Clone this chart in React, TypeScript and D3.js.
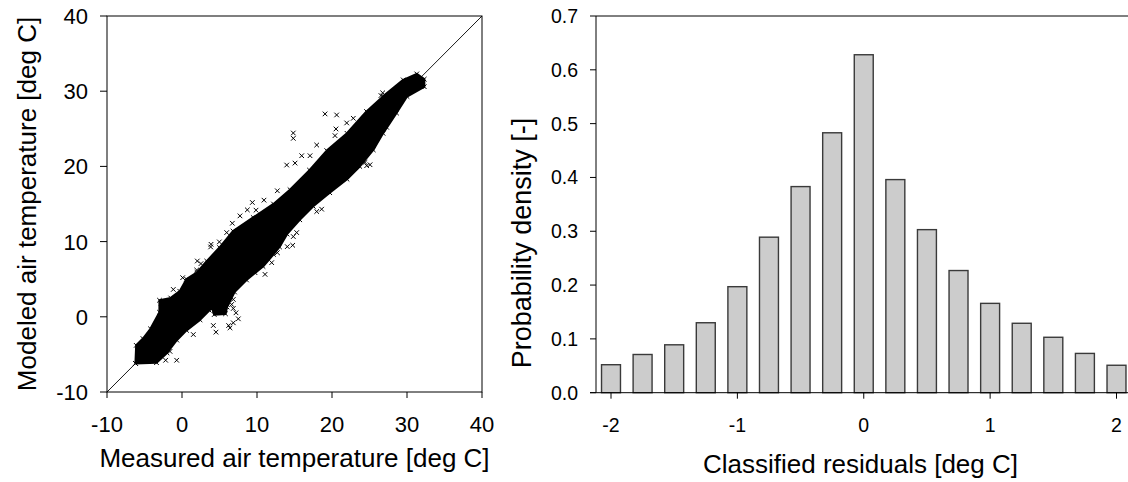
import React from 'react';
import * as d3 from 'd3';

const W = 1128;
const H = 482;
const FONT = "'Liberation Sans', Arial, Helvetica, sans-serif";

// ---- Left panel: modeled vs measured air temperature ----
const tempTicks = [-10, 0, 10, 20, 30, 40];
// dense cloud outline [measured, modeled]
const cloudUpper: [number, number][] = [
  [-6.2, -6.2], [-6.1, -3.8], [-5.2, -2.9], [-4.2, -1.6], [-3.0, 0.6], [-3.0, 2.2],
  [-1.5, 2.5], [-0.3, 3.4], [0.6, 5.0], [2.0, 5.9], [3.3, 7.4], [5.0, 9.2],
  [6.8, 11.4], [9.5, 13.2], [12.2, 15.0], [14.4, 16.9], [17.0, 19.5], [19.3, 22.1],
  [22.0, 24.4], [24.6, 27.3], [26.8, 29.3], [29.5, 31.5], [31.3, 32.3], [32.3, 31.6],
];
const cloudLower: [number, number][] = [
  [32.3, 30.6], [30.0, 29.3], [28.6, 27.1], [26.8, 24.4], [25.5, 22.2], [23.7, 20.0],
  [22.0, 18.3], [19.7, 16.5], [17.5, 14.7], [15.7, 12.9], [14.0, 11.0], [13.0, 9.3],
  [12.2, 8.3], [10.8, 6.7], [8.6, 4.9], [7.0, 3.3], [6.0, 1.3], [5.8, 0.4],
  [4.3, 0.3], [4.0, 1.2], [2.4, -0.4], [0.6, -1.8], [-0.7, -3.1], [-2.0, -4.8],
  [-3.4, -6.1], [-6.2, -6.2],
];
// scattered points outside the dense cloud
const outliers: [number, number][] = [
  [19.07, 26.98], [20.62, 26.84], [14.84, 24.44], [14.84, 23.73], [20.4, 24.09], [20.53, 24.98],
  [21.96, 25.78], [17.96, 22.84], [25.51, 27.38], [26.76, 29.78], [24.62, 20.09], [25.07, 20.22],
  [15.96, 21.42], [13.96, 20.18], [15.07, 20.44], [17.07, 21.42], [12.71, 16.76], [10.93, 15.51],
  [9.38, 15.2], [9.87, 14.18], [8.71, 14.22], [7.73, 13.42], [6.71, 12.44], [5.96, 11.2],
  [4.98, 9.96], [3.87, 9.64], [3.82, 9.29], [2.53, 7.07], [2.04, 7.42], [1.96, 6.22],
  [0.09, 5.2], [-1.16, 3.64], [-2.76, 1.2], [4.18, -1.16], [4.53, -2.04], [1.51, -2.36],
  [6.4, -1.47], [6.22, -1.16], [6.84, -0.8], [7.51, -0.27], [6.84, 2.31], [6.62, 1.64],
  [6.84, 1.11], [7.2, 0.53], [-0.71, -5.78], [-2.18, -5.78], [-2.8, -4.49], [14.76, 9.51],
  [14.04, 9.33], [12.71, 8.53], [11.29, 8.53], [11.96, 7.2], [11.07, 5.64], [9.73, 5.87],
  [14.84, 10.67], [15.29, 11.2], [17.96, 14.0], [18.62, 14.31], [24.4, 20.53], [27.29, 25.2],
  [31.96, 30.67], [30.18, 31.33], [26.53, 29.42], [22.84, 26.4], [-1.6, -4.6], [3.6, 0.9],
];

// ---- Right panel: histogram of classified residuals ----
const residualClasses = [-2, -1.75, -1.5, -1.25, -1, -0.75, -0.5, -0.25, 0, 0.25, 0.5, 0.75, 1, 1.25, 1.5, 1.75, 2];
const densities = [0.052, 0.071, 0.089, 0.130, 0.197, 0.289, 0.383, 0.483, 0.628, 0.396, 0.303, 0.227, 0.166, 0.129, 0.103, 0.073, 0.051];
const residualTicks = [-2, -1, 0, 1, 2];
const densityTicks = [0, 0.1, 0.2, 0.3, 0.4, 0.5, 0.6, 0.7];

export default function App() {
  // left
  const xs = d3.scaleLinear().domain([-10, 40]).range([107, 482]);
  const ys = d3.scaleLinear().domain([-10, 40]).range([392, 16]);
  const cloudPath = d3.line<[number, number]>().x(d => xs(d[0])).y(d => ys(d[1]))([...cloudUpper, ...cloudLower]) + 'Z';
  const m = 2.3;

  // right
  const rx = d3.scaleLinear().domain([-2, 2]).range([611, 1116.5]);
  const ry = d3.scaleLinear().domain([0, 0.7]).range([392.7, 16]);
  const barW = (rx(0.25) - rx(0)) * 0.6;
  const rLeft = 596;

  const cross = (p: [number, number]) => {
    const x = xs(p[0]);
    const y = ys(p[1]);
    return `M${x - m},${y - m}L${x + m},${y + m}M${x - m},${y + m}L${x + m},${y - m}`;
  };

  return (
    <svg width={W} height={H} style={{ position: 'absolute', left: 0, top: 0, background: '#fff' }} fontFamily={FONT}>
      <rect x={0} y={0} width={W} height={H} fill="#fff" />
      {/* LEFT PANEL */}
      <line x1={xs(-10)} y1={ys(-10)} x2={xs(40)} y2={ys(40)} stroke="#000" strokeWidth={0.9} />
      <path d={cloudPath} fill="#000" stroke="#000" strokeWidth={2.2} strokeLinejoin="round" />
      {[...cloudUpper, ...cloudLower].map((p, i) => (
        <path key={'c' + i} d={cross(p)} stroke="#000" strokeWidth={1} />
      ))}
      {outliers.map((p, i) => (
        <path key={'o' + i} d={cross(p)} stroke="#000" strokeWidth={1} />
      ))}
      <rect x={xs(-10)} y={ys(40)} width={xs(40) - xs(-10)} height={ys(-10) - ys(40)} fill="none" stroke="#000" strokeWidth={1} />
      {tempTicks.map(t => (
        <g key={'xt' + t}>
          <line x1={xs(t)} x2={xs(t)} y1={ys(-10)} y2={ys(-10) + 6} stroke="#000" />
          <text x={xs(t)} y={432} textAnchor="middle" fontSize={22}>{String(t)}</text>
          <line x1={xs(-10) - 7} x2={xs(-10)} y1={ys(t)} y2={ys(t)} stroke="#000" />
          <text x={88} y={ys(t) + 8} textAnchor="end" fontSize={22}>{String(t)}</text>
        </g>
      ))}
      <text x={(xs(-10) + xs(40)) / 2} y={467} textAnchor="middle" fontSize={26}>Measured air temperature [deg C]</text>
      <text transform={`translate(36,${(ys(-10) + ys(40)) / 2}) rotate(-90)`} textAnchor="middle" fontSize={26}>Modeled air temperature [deg C]</text>

      {/* RIGHT PANEL */}
      {residualClasses.map((c, i) => (
        <rect key={'b' + i} x={rx(c) - barW / 2} y={ry(densities[i])} width={barW} height={ry(0) - ry(densities[i])} fill="#cccccc" stroke="#3a3a3a" strokeWidth={1.4} />
      ))}
      <line x1={rLeft} x2={rLeft} y1={ry(0)} y2={ry(0.7)} stroke="#000" />
      <line x1={rLeft} x2={W} y1={ry(0.7)} y2={ry(0.7)} stroke="#000" />
      <line x1={rLeft - 6} x2={W} y1={ry(0)} y2={ry(0)} stroke="#000" />
      {densityTicks.map(t => (
        <g key={'dt' + t}>
          <line x1={rLeft - 6} x2={rLeft} y1={ry(t)} y2={ry(t)} stroke="#000" />
          <text x={578} y={ry(t) + 7} textAnchor="end" fontSize={19.5}>{t.toFixed(1)}</text>
        </g>
      ))}
      {residualTicks.map(t => (
        <g key={'rt' + t}>
          <line x1={rx(t)} x2={rx(t)} y1={ry(0)} y2={ry(0) + 6} stroke="#000" />
          <text x={rx(t)} y={432} textAnchor="middle" fontSize={19.5}>{String(t)}</text>
        </g>
      ))}
      <text x={860.5} y={473} textAnchor="middle" fontSize={26}>Classified residuals [deg C]</text>
      <text transform={`translate(531,243) rotate(-90)`} textAnchor="middle" fontSize={27}>Probability density [-]</text>
    </svg>
  );
}
